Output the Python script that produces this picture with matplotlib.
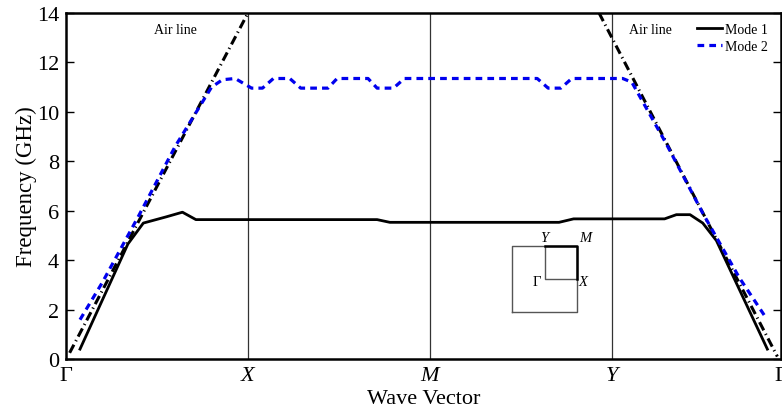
import matplotlib
matplotlib.use("Agg")
import matplotlib.pyplot as plt

plt.rcParams['font.family'] = ['Liberation Serif', 'DejaVu Serif']

# symmetry points along the path
sym_pos = [0.0, 1.0, 2.0, 3.0, 3.93]
sym_lab = ['Γ', 'X', 'M', 'Y', 'Γ']

# Mode 1 (solid black)
k1 = [0.077, 0.34, 0.425, 0.55, 0.64, 0.714, 1.0, 1.71, 1.78, 2.0, 2.71, 2.79,
      3.0, 3.29, 3.355, 3.43, 3.50, 3.575, 3.855]
f1 = [0.4, 4.65, 5.5, 5.75, 5.94, 5.64, 5.64, 5.64, 5.53, 5.53, 5.53, 5.67,
      5.67, 5.67, 5.84, 5.84, 5.5, 4.79, 0.4]

# Mode 2 (dashed blue)
k2 = [0.077, 0.2, 0.4, 0.6, 0.8, 0.86, 0.93, 1.02, 1.08, 1.14, 1.23, 1.29,
      1.44, 1.49, 1.66, 1.71, 1.80, 1.86, 2.0, 2.59, 2.65, 2.72, 2.78, 3.06,
      3.11, 3.3, 3.5, 3.7, 3.84]
f2 = [1.59, 3.1, 5.8, 8.6, 11.0, 11.3, 11.35, 10.96, 10.96, 11.35, 11.35, 10.96,
      10.96, 11.35, 11.35, 10.96, 10.96, 11.35, 11.35, 11.35, 10.96, 10.96, 11.35, 11.35,
      11.2, 8.7, 5.9, 3.3, 1.75]

# light lines
air_left_k = [0.02, 1.0]
air_left_f = [0.25, 14.0]
air_right_k = [2.93, 3.91]
air_right_f = [14.0, 0.1]

fig = plt.figure(figsize=(7.82, 4.14), dpi=100)
ax = fig.add_axes([66 / 782, 54 / 414, 715 / 782, 346 / 414])

airstyle = (0, (3, 1.3, 0.4, 1.3))
ax.plot(air_left_k, air_left_f, color='k', lw=2.2, linestyle=airstyle)
ax.plot(air_right_k, air_right_f, color='k', lw=2.2, linestyle=airstyle)
l1, = ax.plot(k1, f1, color='k', lw=2.0, label='Mode 1')
l2, = ax.plot(k2, f2, color='#0000ee', lw=2.3, linestyle=(0, (2.1, 1.6)), label='Mode 2')

for p in sym_pos[1:4]:
    ax.axvline(p, color='#333333', lw=0.9, zorder=0)

ax.set_xlim(0, 3.93)
ax.set_ylim(0, 14)
ax.set_yticks(range(0, 15, 2))
ax.set_xticks(sym_pos)
ax.set_xticklabels(sym_lab)
for lab in ax.get_xticklabels():
    if lab.get_text() in ('X', 'M', 'Y'):
        lab.set_fontstyle('italic')
ax.tick_params(axis='both', direction='in', labelsize=16, length=6, width=1)
ax.tick_params(axis='y', right=True, pad=5)
ax.tick_params(axis='x', length=0, pad=5)
for s in ax.spines.values():
    s.set_linewidth(1.8)

ax.set_xlabel('Wave Vector', fontsize=16, labelpad=3)
ax.set_ylabel('Frequency (GHz)', fontsize=16.5, labelpad=0)

ax.text(0.6, 13.35, 'Air line', fontsize=10, ha='center', va='center')
ax.text(3.21, 13.35, 'Air line', fontsize=10, ha='center', va='center')

ax.legend(handles=[l1, l2], loc='upper right', bbox_to_anchor=(0.982, 0.972),
          frameon=False, fontsize=10, handlelength=1.8, handletextpad=0.2,
          borderaxespad=0, borderpad=0, labelspacing=0.3)

# Brillouin zone sketch
ins = fig.add_axes([511.7 / 782, (414 - 313.3) / 414, 65.6 / 782, 66.6 / 414])
ins.set_xlim(0, 2)
ins.set_ylim(0, 2)
ins.axis('off')
ins.plot([0, 2, 2, 0, 0], [0, 0, 2, 2, 0], color='#555555', lw=1, clip_on=False)
ins.plot([1, 1, 2], [2, 1, 1], color='#555555', lw=1, clip_on=False)
ins.plot([1, 2, 2], [2, 2, 1], color='k', lw=1.8, clip_on=False)
ins.text(1.0, 2.04, 'Y', fontsize=10.5, style='italic', ha='center', va='bottom')
ins.text(2.05, 2.04, 'M', fontsize=10.5, style='italic', ha='left', va='bottom')
ins.text(0.88, 0.93, 'Γ', fontsize=10.5, ha='right', va='center')
ins.text(2.05, 0.93, 'X', fontsize=10.5, style='italic', ha='left', va='center')

fig.savefig('out.png', dpi=100)
